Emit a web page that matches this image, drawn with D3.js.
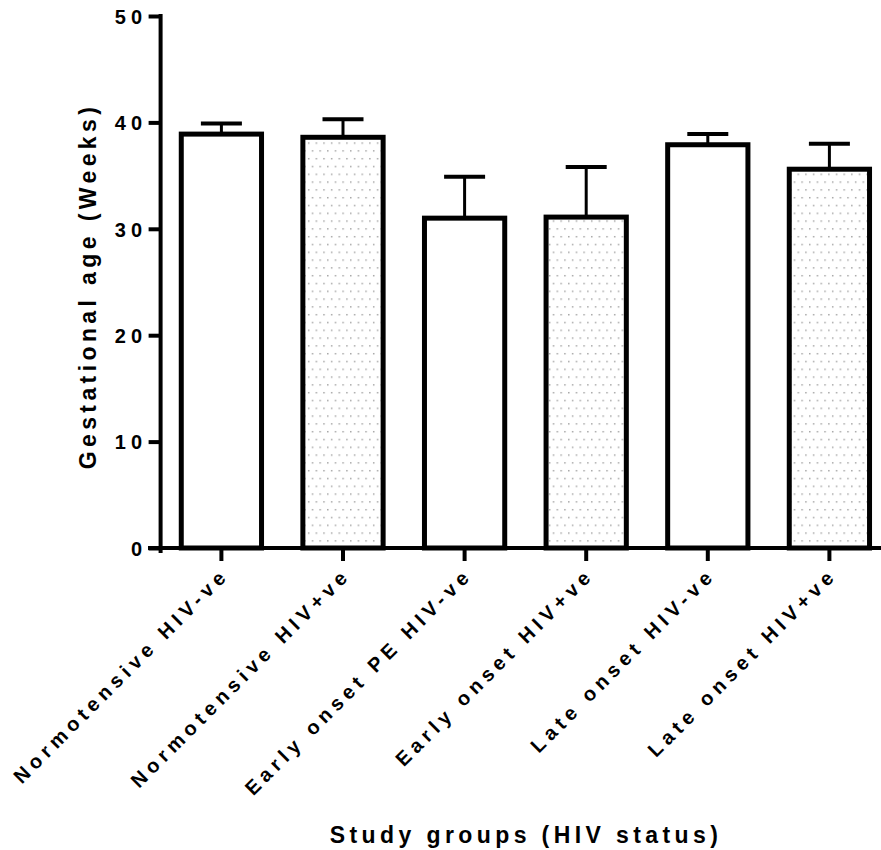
<!DOCTYPE html>
<html>
<head>
<meta charset="utf-8">
<script src="https://cdn.jsdelivr.net/npm/d3@7"></script>
<style>
  html, body { margin: 0; padding: 0; background: #fff; }
  svg { display: block; }
  text { font-family: "Liberation Sans", Arial, Helvetica, sans-serif; font-weight: bold; fill: #000; }
</style>
</head>
<body>
<svg id="chart" width="881" height="850"></svg>
<script>
// ---- Data ----
const categories = [
  "Normotensive HIV-ve",
  "Normotensive HIV+ve",
  "Early onset PE HIV-ve",
  "Early onset HIV+ve",
  "Late onset HIV-ve",
  "Late onset HIV+ve"
];
const means = [38.9, 38.6, 31.0, 31.1, 37.9, 35.6];
const sds = [1.0, 1.7, 3.9, 4.7, 1.0, 2.4];
const dotted = [false, true, false, true, false, true];
const yTicks = [0, 10, 20, 30, 40, 50];
const yTitle = "Gestational age (Weeks)";
const xTitle = "Study groups (HIV status)";

// ---- Layout ----
const svg = d3.select("#chart");
const axisX = 160.6;
const plotRight = 890.2;
const y0 = 548, yTop = 16;

const x = d3.scaleBand().domain(categories).range([axisX, plotRight])
  .paddingInner(0.34).paddingOuter(0.17);
const y = d3.scaleLinear().domain([0, 50]).range([y0, yTop]);

// pattern
const defs = svg.append("defs");
const pat = defs.append("pattern").attr("id", "dots")
  .attr("patternUnits", "userSpaceOnUse")
  .attr("width", 7.65).attr("height", 15.6);
pat.append("rect").attr("x", 2).attr("y", 2).attr("width", 1.4).attr("height", 1.4).attr("fill", "#9a9a9a");
pat.append("rect").attr("x", 5.8).attr("y", 9.8).attr("width", 1.4).attr("height", 1.4).attr("fill", "#9a9a9a");

// error bars (upper only)
const eb = svg.append("g");
categories.forEach((c, i) => {
  const cx = x(c) + x.bandwidth() / 2;
  eb.append("line").attr("x1", cx).attr("x2", cx)
    .attr("y1", y(means[i])).attr("y2", y(means[i] + sds[i]))
    .attr("stroke", "#000").attr("stroke-width", 3);
  eb.append("line").attr("x1", cx - 20.5).attr("x2", cx + 20.5)
    .attr("y1", y(means[i] + sds[i])).attr("y2", y(means[i] + sds[i]))
    .attr("stroke", "#000").attr("stroke-width", 4);
});

// bars
svg.append("g").selectAll("rect").data(categories).join("rect")
  .attr("x", d => x(d))
  .attr("width", x.bandwidth())
  .attr("y", (d, i) => y(means[i]))
  .attr("height", (d, i) => y(0) - y(means[i]))
  .attr("fill", (d, i) => dotted[i] ? "url(#dots)" : "#fff")
  .attr("stroke", "#000").attr("stroke-width", 5);

// y axis
const yAxis = svg.append("g").attr("transform", `translate(${axisX},0)`)
  .call(d3.axisLeft(y).tickValues(yTicks).tickSize(12).tickSizeOuter(0).tickPadding(0).tickFormat(d3.format("d")));
yAxis.select(".domain").remove();
yAxis.selectAll(".tick line").attr("stroke", "#000").attr("stroke-width", 4);
yAxis.selectAll(".tick text")
  .attr("x", -13.5).attr("dy", "0.36em")
  .style("font-size", "20px").style("letter-spacing", "5px").style("font-family", null);
yAxis.append("line").attr("x1", 0).attr("x2", 0).attr("y1", yTop - 2).attr("y2", y0 + 5)
  .attr("stroke", "#000").attr("stroke-width", 4);

// x axis
const xAxis = svg.append("g").attr("transform", `translate(0,${y0})`)
  .call(d3.axisBottom(x).tickSize(13).tickSizeOuter(0).tickPadding(0));
xAxis.select(".domain").remove();
xAxis.selectAll(".tick line").attr("stroke", "#000").attr("stroke-width", 4);
xAxis.append("line").attr("x1", 148).attr("x2", 881).attr("y1", 0).attr("y2", 0)
  .attr("stroke", "#000").attr("stroke-width", 4);
xAxis.selectAll(".tick text")
  .attr("text-anchor", "end")
  .attr("x", null).attr("y", null).attr("dy", null)
  .attr("transform", "translate(9,28) rotate(-45)")
  .style("font-size", "20px").style("letter-spacing", "5px").style("font-family", null);

// titles
svg.append("text")
  .attr("transform", "translate(96,286) rotate(-90)")
  .attr("text-anchor", "middle")
  .style("font-size", "23px").style("letter-spacing", "4.4px")
  .text(yTitle);
svg.append("text")
  .attr("x", 526).attr("y", 843)
  .attr("text-anchor", "middle")
  .style("font-size", "23px").style("letter-spacing", "4.4px")
  .text(xTitle);
</script>
</body>
</html>
